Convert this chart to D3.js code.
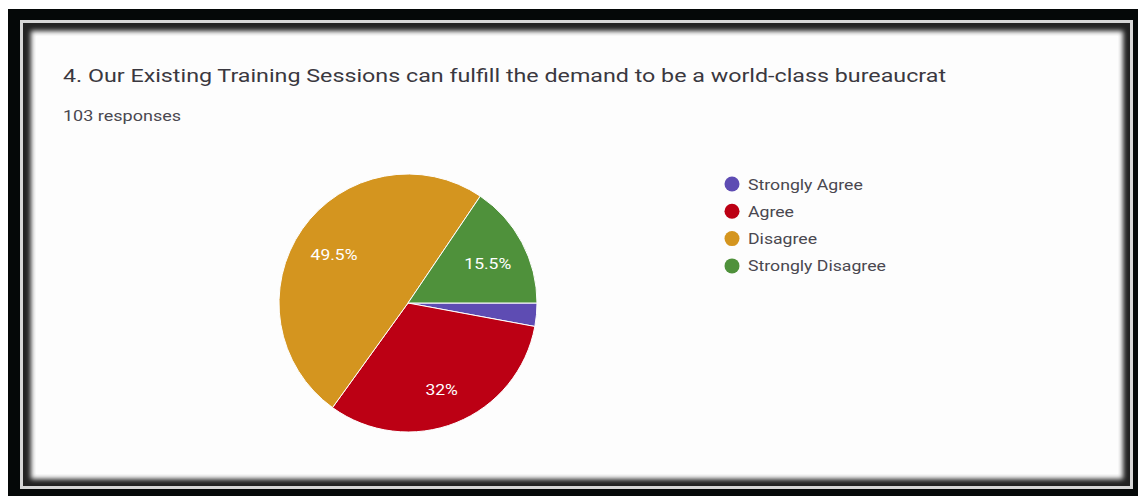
<!DOCTYPE html>
<html>
<head>
<meta charset="utf-8">
<script src="https://cdn.jsdelivr.net/npm/d3@7"></script>
<style>
  html, body { margin: 0; padding: 0; background: #ffffff; }
  svg { display: block; }
  text { font-family: Roboto, "Noto Sans", Arial, sans-serif; }
</style>
</head>
<body>
<svg id="chart" width="1138" height="496"></svg>
<script>
// Survey question and answer counts (103 responses)
const title = "4. Our Existing Training Sessions can fulfill the demand to be a world-class bureaucrat";
const subtitle = "103 responses";
const categories = ["Strongly Agree", "Agree", "Disagree", "Strongly Disagree"];
const counts = [3, 33, 51, 16];
const colors = ["#5e4cb3", "#bc0014", "#d4951f", "#4f913b"];

const W = 1138, H = 496;
const svg = d3.select("#chart");
const defs = svg.append("defs");

// Framed card: black outer band, thin light line, dark line, soft inner edge
svg.append("rect").attr("x", 8).attr("y", 9).attr("width", W - 8).attr("height", H - 9).attr("fill", "#050808");
svg.append("rect").attr("x", 20).attr("y", 20).attr("width", 1113).attr("height", 469).attr("fill", "#d6d6d6");
svg.append("rect").attr("x", 23).attr("y", 23).attr("width", 1107).attr("height", 463).attr("fill", "#222222");
defs.append("filter").attr("id", "soft").attr("x", "-5%").attr("y", "-5%").attr("width", "110%").attr("height", "110%")
  .append("feGaussianBlur").attr("stdDeviation", 2.6);
svg.append("rect").attr("x", 31).attr("y", 31).attr("width", 1092).attr("height", 448)
  .attr("fill", "#fdfdfd").attr("filter", "url(#soft)");
svg.append("rect").attr("x", 36).attr("y", 36).attr("width", 1082).attr("height", 438).attr("fill", "#fdfdfd");

// Heading
svg.append("text").attr("x", 63).attr("y", 82)
  .attr("font-size", 18.5).attr("fill", "#3a3840")
  .attr("textLength", 883).attr("lengthAdjust", "spacingAndGlyphs")
  .text(title);
svg.append("text").attr("x", 63).attr("y", 121)
  .attr("font-size", 14).attr("fill", "#4a4850")
  .attr("textLength", 118).attr("lengthAdjust", "spacingAndGlyphs")
  .text(subtitle);

// Pie, starting at 3 o'clock and running clockwise
const cx = 408, cy = 303, r = 129;
const total = d3.sum(counts);
const pie = d3.pie().sort(null).value(d => d)
  .startAngle(Math.PI / 2).endAngle(Math.PI / 2 + 2 * Math.PI);
const arcs = pie(counts);
const arc = d3.arc().innerRadius(0).outerRadius(r);
const labelArc = d3.arc().innerRadius(r * 0.7).outerRadius(r * 0.7);
const color = d3.scaleOrdinal().domain(categories).range(colors);

const g = svg.append("g").attr("transform", `translate(${cx},${cy})`);
g.selectAll("path").data(arcs).join("path")
  .attr("d", arc)
  .attr("fill", (d, i) => color(categories[i]))
  .attr("stroke", "#ffffff").attr("stroke-width", 1);

const pct = v => {
  const p = Math.round(v / total * 1000) / 10;
  return (p % 1 === 0 ? p.toFixed(0) : p.toFixed(1)) + "%";
};
g.selectAll("text.pct").data(arcs.filter(d => d.value / total >= 0.05)).join("text")
  .attr("class", "pct")
  .attr("transform", d => `translate(${labelArc.centroid(d)}) scale(1.25,1)`)
  .attr("text-anchor", "middle").attr("dy", "0.62em")
  .attr("font-size", 14).attr("fill", "#ffffff")
  .text(d => pct(d.value));

// Legend
const leg = svg.append("g").attr("transform", "translate(732,184)");
const rows = leg.selectAll("g").data(categories).join("g")
  .attr("transform", (d, i) => `translate(0,${i * 27.3})`);
rows.append("circle").attr("r", 7.5).attr("fill", d => color(d));
rows.append("text").attr("transform", "translate(16,0) scale(1.14,1)").attr("dy", "0.36em")
  .attr("font-size", 15.5).attr("fill", "#4a4850")
  .text(d => d);
</script>
</body>
</html>
